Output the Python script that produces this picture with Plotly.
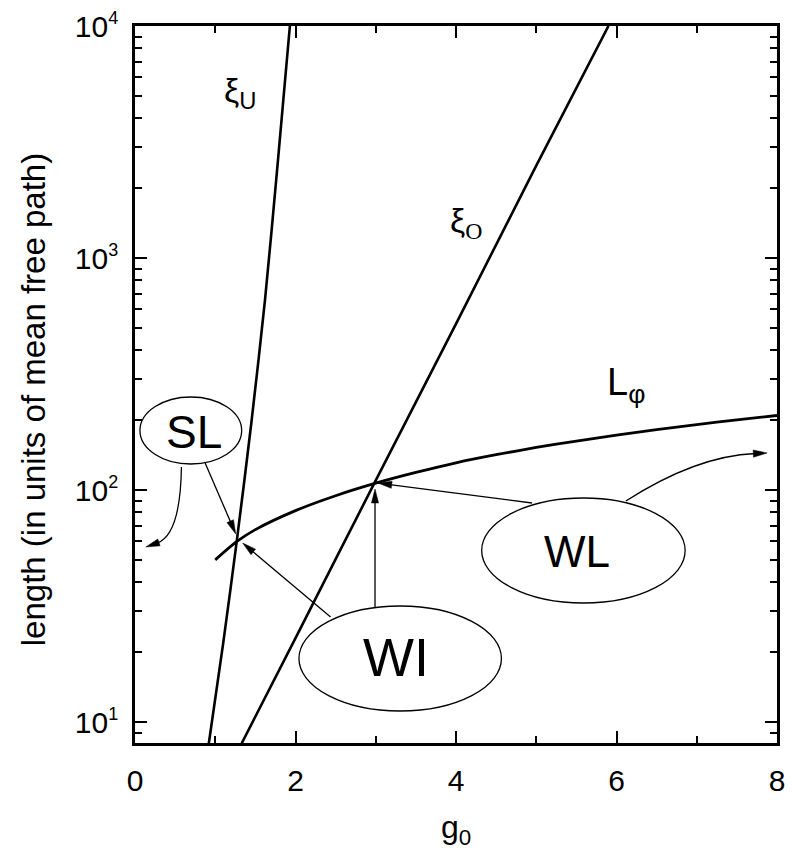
import math
import plotly.graph_objects as go

# ---------------- data ----------------
g_xiU = [0.92, 1.10, 1.27, 1.45, 1.62, 1.78, 1.93]
L_xiU = [8.1, 22, 61, 195, 660, 2600, 10000]

g_xiO = [1.33, 2.0, 3.0, 4.0, 5.0, 5.9]
L_xiO = [8.1, 23, 110, 520, 2500, 10000]

g_Lphi = [1.0, 1.27, 1.5, 2.0, 2.5, 3.0, 3.5, 4.0, 4.5, 5.0, 5.5, 6.0, 6.5, 7.0, 7.5, 8.0]
L_Lphi = [50, 60, 67.5, 81.5, 94.5, 107, 119, 131, 142, 152.5, 162.5, 172.5, 182, 191.5, 200.5, 209.5]

x_major = [0, 2, 4, 6, 8]
x_minor = [1, 3, 5, 7]
y_major = [10, 100, 1000, 10000]
y_major_text = ["10<sup><span style='font-size:18px'>%d</span></sup>" % e for e in (1, 2, 3, 4)]
y_minor = [9] + [k * 10 ** d for d in (1, 2, 3) for k in range(2, 10)]

FONT = "Liberation Sans, Arial, sans-serif"

# ---------------- layout geometry (pixels) ----------------
W, H = 792, 852
X0, X1, Y0, Y1 = 135, 785, 26, 743   # plot area: left, right, top, bottom


def P(x, y):
    """pixel -> paper"""
    return (x - X0) / (X1 - X0), (Y1 - y) / (Y1 - Y0)


fig = go.Figure()
for gx, ly, w in ((g_xiU, L_xiU, 2.6), (g_xiO, L_xiO, 2.6), (g_Lphi, L_Lphi, 2.8)):
    fig.add_trace(go.Scatter(x=gx, y=ly, mode="lines",
                             line=dict(color="black", width=w, shape="spline", smoothing=0.8),
                             hoverinfo="skip"))

shapes = []
annotations = []


def ellipse(cx, cy, rx, ry):
    ax, ay = P(cx - rx, cy + ry)
    bx, by = P(cx + rx, cy - ry)
    shapes.append(dict(type="circle", xref="paper", yref="paper", x0=ax, y0=ay, x1=bx, y1=by,
                       fillcolor="white", line=dict(color="black", width=1.3), layer="above"))


def head(tip, d, length=14, half=3.6):
    n = math.hypot(*d)
    ux, uy = d[0] / n, d[1] / n
    bx, by = tip[0] - length * ux, tip[1] - length * uy
    c1 = (bx - half * uy, by + half * ux)
    c2 = (bx + half * uy, by - half * ux)
    pts = [P(*tip), P(*c1), P(*c2)]
    path = "M %f,%f L %f,%f L %f,%f Z" % (pts[0] + pts[1] + pts[2])
    shapes.append(dict(type="path", xref="paper", yref="paper", path=path,
                       fillcolor="black", line=dict(color="black", width=0.5), layer="above"))
    return (bx + 2 * ux, by + 2 * uy)


def straight_arrow(start, tip):
    base = head(tip, (tip[0] - start[0], tip[1] - start[1]))
    a, b = P(*start), P(*base)
    shapes.append(dict(type="path", xref="paper", yref="paper",
                       path="M %f,%f L %f,%f" % (a + b),
                       line=dict(color="black", width=1.3), layer="above"))


def curved_arrow(start, ctrl, tip):
    base = head(tip, (tip[0] - ctrl[0], tip[1] - ctrl[1]))
    a, c, b = P(*start), P(*ctrl), P(*base)
    shapes.append(dict(type="path", xref="paper", yref="paper",
                       path="M %f,%f Q %f,%f %f,%f" % (a + c + b),
                       line=dict(color="black", width=1.3), layer="above"))


# ellipses
ellipse(191.5, 430.5, 51.5, 33.5)   # SL
ellipse(403.5, 658.5, 102.5, 52.5)  # WI
ellipse(589, 550.5, 103, 52.5)      # WL

# arrows
straight_arrow((206, 463), (237, 534))
curved_arrow((182, 467), (181, 535), (146, 547))
straight_arrow((333, 617), (244, 543))
straight_arrow((378, 607), (378, 489))
straight_arrow((537, 503), (381, 483))
curved_arrow((632, 501), (703, 456), (775, 453))


def text(x, y, s, size, xanchor="center", family=FONT):
    px, py = P(x, y)
    annotations.append(dict(xref="paper", yref="paper", x=px, y=py, text=s, showarrow=False,
                            xanchor=xanchor, yanchor="middle",
                            font=dict(family=family, size=size, color="black")))


text(195, 432, "SL", 46)
text(399, 657, "WI", 54)
text(583, 551, "WL", 44)
text(223, 92, "ξ<sub>U</sub>", 34, xanchor="left")
text(452, 222, "ξ<sub><span style='font-family:Liberation Serif'>O</span></sub>", 34, xanchor="left")
text(611, 385, "L<sub>φ</sub>", 38, xanchor="left")

# axis titles
annotations.append(dict(xref="paper", yref="paper", x=P(33, 0)[0], y=P(0, 400)[1], textangle=-90,
                        text="length (in units of mean free path)", showarrow=False,
                        xanchor="center", yanchor="middle",
                        font=dict(family=FONT, size=33, color="black")))
annotations.append(dict(xref="paper", yref="paper", x=0.5, y=P(0, 829)[1],
                        text="g<sub>0</sub>", showarrow=False,
                        xanchor="center", yanchor="middle",
                        font=dict(family=FONT, size=32, color="black")))

axis_common = dict(showgrid=False, zeroline=False, showline=True, linecolor="black",
                   linewidth=2.6, mirror="ticks", ticks="inside", ticklen=12, tickwidth=2,
                   tickcolor="black", tickfont=dict(family=FONT, size=30, color="black"))

fig.update_layout(
    width=W, height=H,
    margin=dict(l=X0, r=W - X1, t=Y0, b=H - Y1, pad=0),
    paper_bgcolor="white", plot_bgcolor="white",
    showlegend=False,
    xaxis=dict(range=[0, 8], tickmode="array", tickvals=x_major,
               ticklabelstandoff=9,
               minor=dict(tickmode="array", tickvals=x_minor, ticks="inside", ticklen=7,
                          tickwidth=2, tickcolor="black"),
               **axis_common),
    yaxis=dict(type="log", range=[math.log10(8.12), 4], tickmode="array",
               tickvals=y_major, ticktext=y_major_text, ticklabelstandoff=8,
               minor=dict(tickmode="array", tickvals=y_minor, ticks="inside", ticklen=7,
                          tickwidth=2, tickcolor="black"),
               **axis_common),
    shapes=shapes,
    annotations=annotations,
)

fig.write_html("out.html")
